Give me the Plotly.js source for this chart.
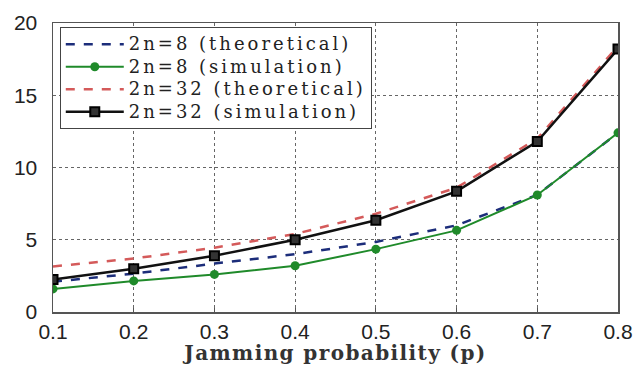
<!DOCTYPE html>
<html><head><meta charset="utf-8">
<script src="https://cdn.plot.ly/plotly-3.0.1.min.js"></script>
<style>body{margin:0;background:#fff}#c{width:640px;height:365px}
.legendtext{letter-spacing:3px;font-size:18px !important}
.xtitle{letter-spacing:1.4px}
</style>
</head><body><div id="c"></div>
<script>
const p = [0.1,0.2,0.3,0.4,0.5,0.6,0.7,0.8];
const theo8 = [2.1,2.65,3.35,4.0,4.85,6.0,8.1,12.4];
const sim8 = [1.6,2.15,2.6,3.2,4.35,5.65,8.1,12.4];
const theo32 = [3.15,3.7,4.45,5.4,6.8,8.6,12.0,18.4];
const sim32 = [2.25,3.0,3.9,5.0,6.35,8.35,11.8,18.2];
const names = ['2n=8 (theoretical)','2n=8 (simulation)','2n=32 (theoretical)','2n=32 (simulation)'];
const xTicks = [0.1,0.2,0.3,0.4,0.5,0.6,0.7,0.8];
const yTicks = [0,5,10,15,20];

const serif = '"DejaVu Serif", "Liberation Serif", serif';
const sans = '"Liberation Sans", Arial, sans-serif';
const traces = [
 {x:p,y:theo8,name:names[0],mode:'lines',line:{color:'#1c2d7a',width:2.5,dash:'dash'}},
 {x:p,y:sim8,name:names[1],mode:'lines+markers',line:{color:'#1f8a2a',width:2},marker:{symbol:'circle',size:9,color:'#1f8a2a'}},
 {x:p,y:theo32,name:names[2],mode:'lines',line:{color:'#d45a5a',width:2.5,dash:'dash'}},
 {x:p,y:sim32,name:names[3],mode:'lines+markers',line:{color:'#111',width:2.5},marker:{symbol:'square',size:9,color:'#333',line:{color:'#000',width:2}}}
];
const layout = {
 width:640,height:365,paper_bgcolor:'#fff',plot_bgcolor:'#fff',
 margin:{l:53,r:22,t:23,b:53},
 showlegend:true,
 legend:{x:0.012,y:0.986,xanchor:'left',yanchor:'top',bgcolor:'#fff',bordercolor:'#444',borderwidth:1,
   font:{family:serif,size:15,color:'#222'},tracegroupgap:0,itemwidth:58},
 xaxis:{range:[0.1,0.8],tickvals:xTicks,ticktext:xTicks.map(v=>v.toFixed(1)),showgrid:true,gridcolor:'#666',griddash:'dot',gridwidth:1,
   showline:true,linecolor:'#555',linewidth:1.5,mirror:true,ticks:'inside',ticklen:4,tickcolor:'#555',zeroline:false,
   tickfont:{family:sans,size:21,color:'#222'},
   title:{text:'Jamming probability (p)',font:{family:serif,size:20,color:'#333',weight:'bold'},standoff:0}},
 yaxis:{range:[0,20],tickvals:yTicks,showgrid:true,gridcolor:'#666',griddash:'dot',gridwidth:1,
   showline:true,linecolor:'#555',linewidth:1.5,mirror:true,ticks:'outside',ticklen:10,tickcolor:'rgba(0,0,0,0)',zeroline:false,
   tickfont:{family:sans,size:21,color:'#222'}}
};
Plotly.newPlot('c',traces,layout,{displayModeBar:false,staticPlot:true});
</script></body></html>
